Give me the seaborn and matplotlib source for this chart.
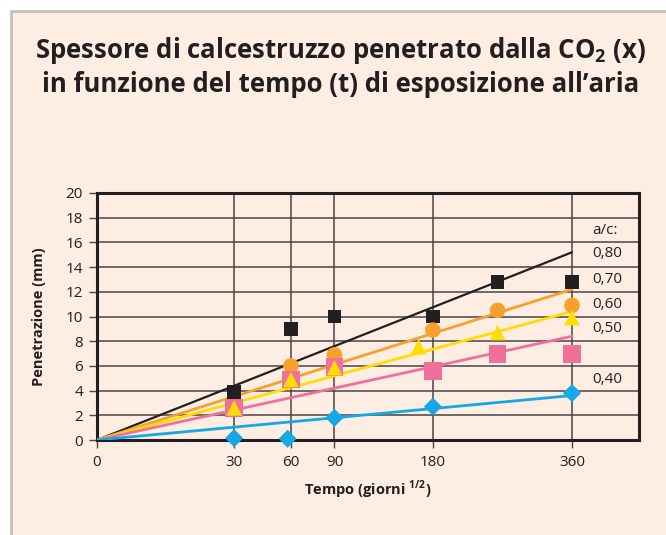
import numpy as np
import matplotlib.pyplot as plt
import seaborn as sns
import pandas as pd
from matplotlib.lines import Line2D
from matplotlib.patches import Rectangle

# a/c ratios and styling
ratios = ["0,80", "0,70", "0,60", "0,50", "0,40"]
colors = ["#231f20", "#f7a12c", "#ffdd00", "#f0709c", "#14a9e6"]
markers = ["s", "o", "^", "s", "D"]
msizes = [100, 125, 125, 160, 85]

# measured points (days, mm)
days_080 = [30, 60, 90, 180, 256, 360]
pen_080 = [3.9, 9.0, 10.0, 10.0, 12.8, 12.8]
days_070 = [60, 90, 180, 256, 360]
pen_070 = [6.0, 6.9, 8.9, 10.5, 10.9]
days_060 = [30, 60, 90, 165, 256, 360]
pen_060 = [2.6, 4.9, 5.85, 7.55, 8.7, 9.9]
days_050 = [30, 60, 90, 180, 256, 360]
pen_050 = [2.6, 4.9, 5.9, 5.6, 6.95, 6.95]
days_040 = [30, 58, 90, 180, 360]
pen_040 = [0.15, 0.1, 1.8, 2.7, 3.8]

# fitted lines x = k*sqrt(t)
fit_days = [0, 360]
fit_080 = [0, 15.2]
fit_070 = [0, 12.2]
fit_060 = [0, 10.4]
fit_050 = [0, 8.4]
fit_040 = [0, 3.6]

xtick_days = [0, 30, 60, 90, 180, 360]
yticks = list(range(0, 21, 2))
label_y = [15.1, 13.0, 11.0, 9.0, 4.9]

pts = pd.concat([
    pd.DataFrame({"giorni": d, "mm": p, "ac": r})
    for d, p, r in zip([days_080, days_070, days_060, days_050, days_040],
                       [pen_080, pen_070, pen_060, pen_050, pen_040], ratios)
])
pts["x"] = np.sqrt(pts["giorni"])
fits = pd.concat([
    pd.DataFrame({"giorni": fit_days, "mm": f, "ac": r})
    for f, r in zip([fit_080, fit_070, fit_060, fit_050, fit_040], ratios)
])
fits["x"] = np.sqrt(fits["giorni"])

sns.set_style("white")
plt.rcParams["font.family"] = ["Open Sans", "DejaVu Sans"]
plt.rcParams["mathtext.fontset"] = "custom"
plt.rcParams["mathtext.rm"] = "Open Sans"

bg = "#fdede2"
fig = plt.figure(figsize=(6.66, 5.35), dpi=100)
fig.patch.set_facecolor("white")
fig.patches.append(Rectangle((11 / 666, 0), 1, 1 - 11 / 535, transform=fig.transFigure,
                             facecolor=bg, edgecolor="none", zorder=-10))
fig.lines.append(Line2D([11 / 666, 11 / 666], [0, 1 - 11 / 535], transform=fig.transFigure,
                        color="#c4c4c4", lw=2.2))
fig.lines.append(Line2D([11 / 666, 1], [1 - 11 / 535, 1 - 11 / 535], transform=fig.transFigure,
                        color="#c4c4c4", lw=2.2))

ax = fig.add_axes([97 / 666, 1 - 440 / 535, (639 - 97) / 666, (440 - 193) / 535])
ax.set_facecolor(bg)

for r, c in zip(ratios, colors):
    sub = fits[fits["ac"] == r]
    sns.lineplot(data=sub, x="x", y="mm", color=c, lw=2.0 if r != "0,80" else 1.6,
                 ax=ax, zorder=3, legend=False)

order = [0, 1, 3, 2, 4]
for i in order:
    sub = pts[pts["ac"] == ratios[i]]
    sns.scatterplot(data=sub, x="x", y="mm", color=colors[i], marker=markers[i],
                    s=msizes[i], edgecolor="none", ax=ax, zorder=4, legend=False,
                    clip_on=False)

ax.set_xlim(0, 21.65)
ax.set_ylim(0, 20)
ax.set_xticks(np.sqrt(xtick_days))
ax.set_xticklabels([str(d) for d in xtick_days])
ax.set_yticks(yticks)
ax.set_yticklabels([str(v) for v in yticks])

for d in xtick_days[1:]:
    ax.axvline(np.sqrt(d), color="#4a4446", lw=1.1, zorder=1)
for v in yticks[1:-1]:
    ax.axhline(v, color="#4a4446", lw=1.1, zorder=1)

for s in ax.spines.values():
    s.set_color("#231f20")
    s.set_linewidth(2.2)
ax.tick_params(axis="both", direction="out", length=6, width=1, color="#4a4446",
               labelsize=11, labelcolor="#231f20", bottom=True, left=True)
ax.tick_params(axis="x", pad=5)
ax.tick_params(axis="y", pad=4)

ax.set_xlabel("Tempo (giorni $^{\\mathregular{1/2}}$)", fontsize=10.5, fontweight="bold",
              color="#231f20", labelpad=6)
ax.set_ylabel("Penetrazione (mm)", fontsize=10.5, fontweight="bold", color="#231f20",
              labelpad=14)

ax.text(19.8, 17.0, "a/c:", fontsize=11, color="#231f20", va="center", ha="left")
for r, y in zip(ratios, label_y):
    ax.text(19.8, y, r, fontsize=11, color="#231f20", va="center", ha="left")

fig.text(341 / 666, 1 - 50 / 535, "Spessore di calcestruzzo penetrato dalla CO$_\\mathregular{2}$ (x)",
         ha="center", va="center", fontsize=18.5, fontweight="bold", color="#231f20")
fig.text(341 / 666, 1 - 84 / 535, "in funzione del tempo (t) di esposizione all\u2019aria",
         ha="center", va="center", fontsize=18.5, fontweight="bold", color="#231f20")

fig.savefig("out.png", dpi=100, facecolor=fig.get_facecolor())
